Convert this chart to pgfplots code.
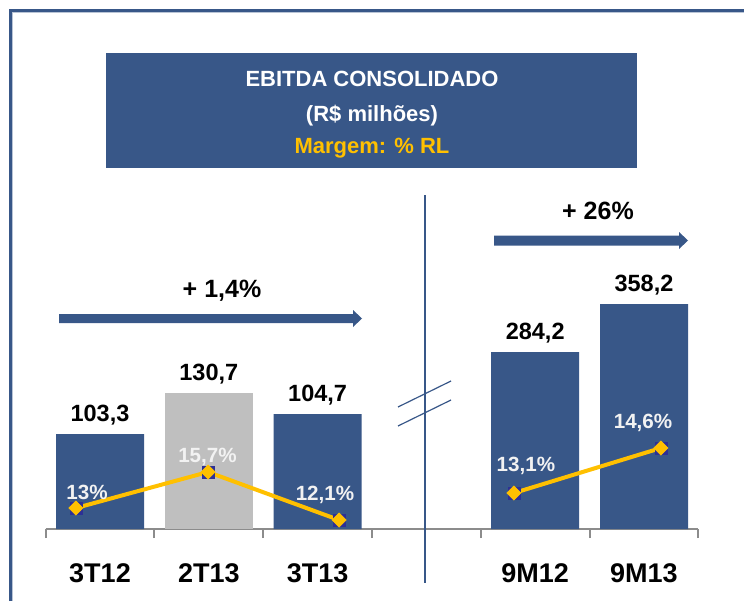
\documentclass[border=0pt]{standalone}
\usepackage{pgfplots}
\pgfplotsset{compat=1.18}
\usepackage{fontspec}
\setmainfont{Liberation Sans}
\definecolor{eblue}{RGB}{56,87,136}
\definecolor{egold}{RGB}{255,192,0}
\definecolor{egray}{RGB}{191,191,191}
\definecolor{enavy}{RGB}{45,48,150}
\definecolor{axgray}{RGB}{140,140,140}
\definecolor{lbl}{RGB}{242,242,242}
\begin{document}
\begin{tikzpicture}
\begin{scope}[x=0.5pt,y=0.5pt]
\path[use as bounding box] (0,0) rectangle (744,601);
\fill[white] (0,0) rectangle (744,601);
\draw[eblue, line width=1.5pt] (10.5,0) -- (10.5,590.5) -- (744,590.5);
\draw[eblue!35, line width=0.5pt] (12.8,0) -- (12.8,588.3) -- (744,588.3);
\fill[eblue] (106,433) rectangle (637,548);
\node[white, font=\fontsize{11pt}{13pt}\selectfont\bfseries] at (372,522) {EBITDA CONSOLIDADO};
\node[white, font=\fontsize{11pt}{13pt}\selectfont\bfseries] at (372,485) {(R\$ milhões)};
\node[egold, font=\fontsize{11pt}{13pt}\selectfont\bfseries] at (372,453) {Margem: \% RL};
\end{scope}
\begin{axis}[
  at={(22.8pt,36pt)}, anchor=south west,
  scale only axis, width=326.4pt, height=125pt,
  xmin=-0.5, xmax=5.5, ymin=0, ymax=250,
  clip=false,
  axis x line*=bottom, hide y axis,
  x axis line style={-, draw=axgray, line width=1pt},
  xtick={0,1,2,4,5},
  xticklabels={3T12,2T13,3T13,9M12,9M13},
  major tick length=0pt,
  xticklabel style={anchor=center, yshift=-22pt, font=\fontsize{13.5pt}{16pt}\selectfont\bfseries},
  extra x ticks={-0.5,0.5,1.5,2.5,3.5,4.5,5.5},
  extra x tick labels={},
  extra x tick style={major tick length=4.5pt, tick align=outside, tick style={draw=axgray, line width=1pt}},
]
% bar heights as drawn (broken axis), labels = EBITDA in R$ millions
\addplot[ybar, bar width=44pt, bar shift=0pt, fill=eblue, draw=none,
  nodes near coords, point meta=explicit symbolic,
  every node near coord/.append style={anchor=center, yshift=9.25pt, text=black, font=\fontsize{11.75pt}{14pt}\selectfont\bfseries}]
  table[x=x, y=h, meta=lab] {
x h lab
0 95 103,3
2 115 104,7
4 177 284,2
5 225 358,2
};
\addplot[ybar, bar width=44pt, bar shift=0pt, fill=egray, draw=none,
  nodes near coords, point meta=explicit symbolic,
  every node near coord/.append style={anchor=center, yshift=9.25pt, text=black, font=\fontsize{11.75pt}{14pt}\selectfont\bfseries}]
  table[x=x, y=h, meta=lab] {
x h lab
1 136 130,7
};
% EBITDA margin (% of net revenue)
\addplot[only marks, mark=square*, mark size=3pt, color=enavy] table[x=x, y=y] {
x y
-0.221 21
0.993 57
2.197 9
};
\addplot[only marks, mark=square*, mark size=3pt, color=enavy] table[x=x, y=y] {
x y
3.805 36
5.156 81
};
\addplot[egold, line width=2pt, mark=square*, mark size=2.5pt, mark options={rotate=45, fill=egold, draw=egold, line width=0.3pt}] table[x=x, y=y] {
x y
-0.221 21
0.993 57
2.197 9
};
\addplot[egold, line width=2pt, mark=square*, mark size=2.5pt, mark options={rotate=45, fill=egold, draw=egold, line width=0.3pt}] table[x=x, y=y] {
x y
3.805 36
5.156 81
};
\addplot[draw=none, mark=none, nodes near coords, point meta=explicit symbolic,
  every node near coord/.append style={anchor=center, text=lbl, font=\fontsize{10.3pt}{12pt}\selectfont\bfseries}]
  table[x=x, y=y, meta=lab] {
x y lab
-0.119 37 13\%
0.988 72 15,7\%
2.068 34 12,1\%
3.915 63 13,1\%
4.991 106 14,6\%
};
\end{axis}
\begin{scope}[x=0.5pt,y=0.5pt]
\draw[eblue, line width=1pt] (425,406) -- (425,18);
\draw[eblue, line width=0.6pt] (398,194) -- (451,220);
\draw[eblue, line width=0.6pt] (398,175) -- (451,201);
\fill[eblue] (59,278) -- (353,278) -- (353,274) -- (362,282.5) -- (353,291) -- (353,287) -- (59,287) -- cycle;
\fill[eblue] (494,355.5) -- (679,355.5) -- (679,352) -- (688,360.5) -- (679,369) -- (679,365.5) -- (494,365.5) -- cycle;
\node[black, font=\fontsize{12.5pt}{15pt}\selectfont\bfseries] at (222,310) {+ 1,4\%};
\node[black, font=\fontsize{12.5pt}{15pt}\selectfont\bfseries] at (598,390) {+ 26\%};
\end{scope}
\end{tikzpicture}
\end{document}
